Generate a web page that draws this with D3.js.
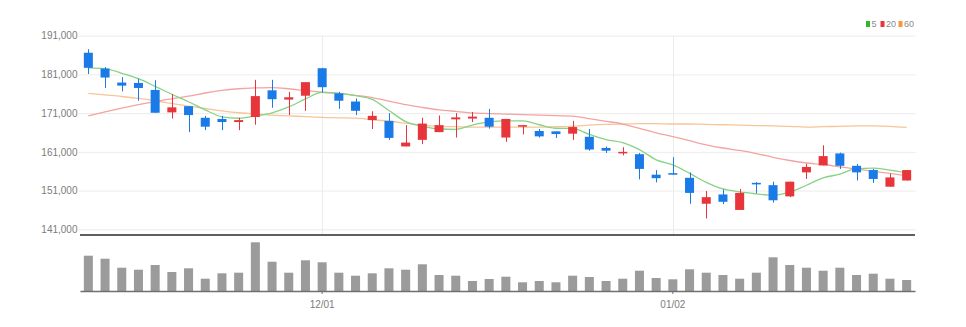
<!DOCTYPE html>
<html>
<head>
<meta charset="utf-8">
<script src="https://cdn.jsdelivr.net/npm/d3@7"></script>
<style>
  html, body { margin: 0; padding: 0; background: #fff; }
  svg { display: block; }
  .lbl { font-family: "Liberation Sans Narrow", "Arial Narrow", "Liberation Sans", sans-serif; }
</style>
</head>
<body>
<svg id="chart" width="966" height="327"></svg>
<script>
// Trading days (MM/DD)
const dates = ["11/11","11/14","11/15","11/16","11/17","11/18","11/21","11/22","11/23","11/24","11/25","11/28","11/29","11/30",
  "12/01","12/02","12/05","12/06","12/07","12/08","12/09","12/12","12/13","12/14","12/15","12/16","12/19","12/20","12/21","12/22","12/23","12/26","12/27","12/28","12/29",
  "01/02","01/03","01/04","01/05","01/06","01/09","01/10","01/11","01/12","01/13","01/16","01/17","01/18","01/19","01/20"];

// Daily prices
const open  = [186600,182500,178900,178800,177000,171200,172800,169800,169500,168700,170000,176900,174500,175500,
  182600,176100,174000,169200,169000,162400,164100,166100,169400,169600,169800,164700,167500,166400,166300,165700,164900,162000,160600,160400,155100,
  155500,154300,147600,150000,146000,153000,152400,149500,155700,157500,160600,157400,156300,152000,153600];
const high  = [187500,182900,180300,179900,179500,175900,172800,170300,170300,169800,179600,179600,176500,179000,
  182700,176500,174800,171500,171000,167900,169800,170400,171000,171300,172100,169500,167900,166900,166300,169000,166900,162400,162200,160700,156300,
  159600,155700,150900,151300,151400,153200,153300,153300,157900,162700,160800,157900,156600,155400,156300];
const low   = [181100,177500,176600,174200,171100,169600,166100,166600,166600,166600,168000,172400,170500,171600,
  176300,172100,170500,166900,164100,162400,163000,166100,164700,168700,167000,163600,165500,164700,164600,164100,161300,160700,160100,153900,153100,
  155100,147600,143800,147500,146000,150300,147900,149300,154000,157500,156600,153600,153000,152000,153600];
const close = [182700,180200,178100,177500,171100,172500,170500,167500,168700,169200,175400,174600,175100,179000,
  177700,174200,171600,170300,164600,163400,168300,167900,169900,170100,167500,169500,167900,165000,165600,167400,161600,161300,161000,156600,154200,
  155100,150400,149300,148100,150400,152600,148500,153300,157100,159900,157400,155700,154000,154400,156300];

// Moving averages (5, 20, 60 days)
const ma5  = [182700,182500,181300,179900,177920,175880,173940,171820,170060,169680,170260,171080,172600,174660,
  176360,176120,175520,174560,171680,168820,167640,166900,166820,167920,168740,168980,168980,168000,167100,167080,165500,164180,163380,161580,158940,
  157640,155460,153120,151420,150660,150160,149780,150580,152380,154280,155240,156680,156820,156280,155560];
const ma20 = [170300,171300,172300,173200,174000,174700,175400,176200,176900,177300,177500,177600,177300,176800,
  176400,176100,175600,175000,174100,173200,172480,171860,171450,171080,170900,170750,170620,170500,170340,170250,169560,168900,168190,167070,165900,
  164940,163880,162830,162000,161360,160570,159600,158770,158120,157740,157140,156530,155980,155420,154860];
const ma60 = [176100,175700,175300,174800,174200,173500,172800,172200,171600,171100,170800,170500,170300,170100,
  169900,169800,169700,169300,168900,168400,167900,167600,167500,167400,167400,167400,167400,167400,167500,167600,167900,168100,168200,168300,168300,
  168200,168200,168100,168000,167900,167800,167700,167600,167400,167500,167600,167700,167700,167600,167300];

// Trading volume
const volume = [353000,323000,233000,213000,260000,190000,227000,123000,177000,183000,487000,293000,183000,307000,
  287000,183000,153000,177000,227000,213000,267000,160000,153000,100000,120000,143000,87000,100000,87000,153000,140000,100000,123000,203000,130000,
  117000,217000,183000,160000,123000,183000,337000,260000,233000,203000,233000,160000,173000,123000,110000];

// Axis ticks
const priceTicks = [141000,151000,161000,171000,181000,191000];
const dateTicks = ["12/01","01/02"];

// Legend entries
const maNames = ["5","20","60"];
const maSeries = [ma5, ma20, ma60];

const svg = d3.select("#chart");
const left = 80, right = 915;
const upColor = "#e8343b", downColor = "#1a7be8";
const lineColors = ["#86d386", "#f4a3a3", "#f7c596"];
const legendColors = ["#2db82d", "#e8343b", "#f29a3a"];

const x = d3.scaleBand().domain(dates).range([left, right]).paddingInner(0.46).paddingOuter(0.23);
const cx = d => x(d) + x.bandwidth() / 2;
const y = d3.scaleLinear().domain([141000, 191000]).range([229.3, 35.7]);
const yv = d3.scaleLinear().domain([0, d3.max(volume)]).range([291, 242.3]);

// Horizontal grid + price labels
const yAxis = d3.axisLeft(y).tickValues(priceTicks).tickFormat(d3.format(","))
  .tickSizeInner(-(right - left)).tickSizeOuter(0).tickPadding(3);
const gy = svg.append("g").attr("transform", `translate(${left + 0.5},0)`).call(yAxis);
gy.select(".domain").remove();
gy.selectAll(".tick line").attr("stroke", "#ececec").attr("x1", -2);
gy.selectAll(".tick text").attr("class", "lbl").attr("fill", "#7c7c7c").attr("font-size", 10);

// Vertical grid at labelled dates
svg.append("g").selectAll("line").data(dateTicks).join("line")
  .attr("x1", d => Math.round(cx(d)) + 0.5).attr("x2", d => Math.round(cx(d)) + 0.5)
  .attr("y1", y(191000)).attr("y2", 235)
  .attr("stroke", "#ececec");

// Moving average lines
const line = d3.line().x((d, i) => cx(dates[i])).y(d => y(d)).curve(d3.curveMonotoneX);
[2, 1, 0].forEach(k => {
  svg.append("path").datum(maSeries[k]).attr("d", line)
    .attr("fill", "none").attr("stroke", lineColors[k]).attr("stroke-width", 1.3);
});

// Candles
const candles = svg.append("g").selectAll("g").data(dates).join("g");
candles.append("line")
  .attr("x1", d => Math.round(cx(d)) + 0.5).attr("x2", d => Math.round(cx(d)) + 0.5)
  .attr("y1", (d, i) => y(high[i])).attr("y2", (d, i) => y(low[i]))
  .attr("stroke", (d, i) => close[i] >= open[i] ? upColor : downColor).attr("stroke-width", 1);
candles.append("rect")
  .attr("x", d => x(d)).attr("width", x.bandwidth())
  .attr("y", (d, i) => y(Math.max(open[i], close[i])))
  .attr("height", (d, i) => Math.max(1.5, Math.abs(y(open[i]) - y(close[i]))))
  .attr("fill", (d, i) => close[i] >= open[i] ? upColor : downColor);

// Price panel baseline
svg.append("line").attr("x1", left).attr("x2", right).attr("y1", 235).attr("y2", 235)
  .attr("stroke", "#2a2a2a").attr("stroke-width", 1.6);

// Volume bars
svg.append("g").selectAll("rect").data(dates).join("rect")
  .attr("x", d => x(d)).attr("width", x.bandwidth())
  .attr("y", (d, i) => yv(volume[i])).attr("height", (d, i) => yv(0) - yv(volume[i]))
  .attr("fill", "#9b9b9b");

// Date axis
const xAxis = d3.axisBottom(x).tickValues(dateTicks).tickSizeInner(3).tickSizeOuter(0).tickPadding(7);
const gx = svg.append("g").attr("transform", "translate(0,291)").call(xAxis);
gx.select(".domain").attr("stroke", "#707070").attr("stroke-width", 1.4);
gx.selectAll(".tick line").attr("stroke", "#707070");
gx.selectAll(".tick text").attr("class", "lbl").attr("fill", "#7c7c7c").attr("font-size", 10);

// Legend
const legendX = [866, 880.5, 898.5];
const lg = svg.append("g").selectAll("g").data(maNames).join("g")
  .attr("transform", (d, i) => `translate(${legendX[i]},20)`);
lg.append("rect").attr("width", 4).attr("height", 6).attr("y", 1)
  .attr("fill", (d, i) => legendColors[i]);
lg.append("text").attr("class", "lbl").attr("x", 5.5).attr("y", 7)
  .attr("font-size", 9).attr("fill", "#8a8a8a").text(d => d);
</script>
</body>
</html>
